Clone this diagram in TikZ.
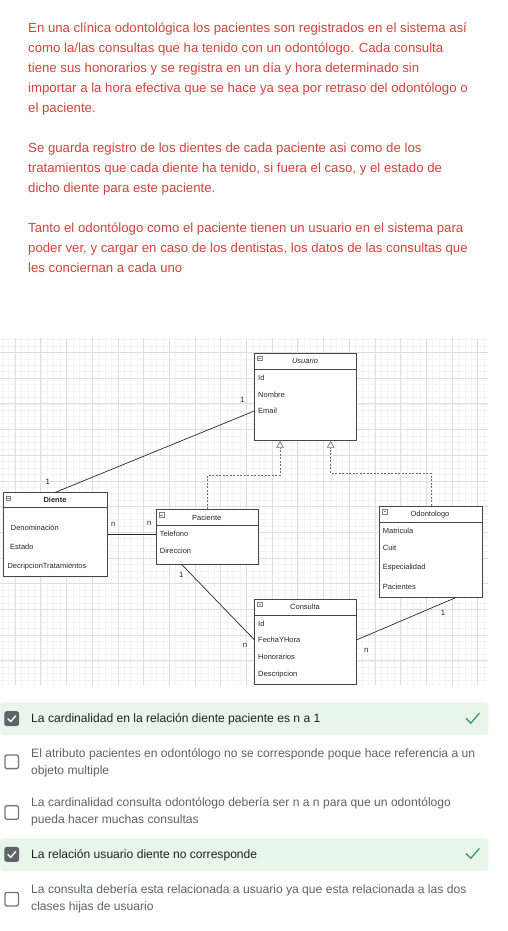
\documentclass[tikz,border=0pt]{standalone}
\usepackage{fontspec}
\setmainfont{Liberation Sans}
\usetikzlibrary{arrows.meta}
\definecolor{prose}{RGB}{212,68,58}
\definecolor{boxc}{RGB}{70,70,70}
\definecolor{attrc}{RGB}{40,40,40}
\definecolor{gridmajor}{RGB}{222,222,222}
\definecolor{gridminor}{RGB}{244,244,244}
\definecolor{dashc}{RGB}{110,110,110}
\definecolor{greenbg}{RGB}{232,245,235}
\definecolor{greenck}{RGB}{52,150,78}
\definecolor{cbdark}{RGB}{95,99,104}
\definecolor{cbgray}{RGB}{117,117,117}
\definecolor{optdark}{RGB}{32,33,36}
\definecolor{optgray}{RGB}{95,99,104}
\begin{document}
\begin{tikzpicture}[x=1pt,y=-1pt,
  umlbox/.style={draw=boxc, line width=0.8pt, fill=white, inner sep=0pt, anchor=north west},
  attr/.style={anchor=base west, inner sep=0pt, text=attrc, font=\fontsize{7.5}{9}\selectfont},
  umltitle/.style={anchor=base, inner sep=0pt, text=attrc, font=\fontsize{7.5}{9}\selectfont},
  card/.style={anchor=base, inner sep=0pt, text=attrc, font=\fontsize{7.8}{9}\selectfont},
  headline/.style={draw=boxc, line width=0.8pt},
  assoc/.style={draw=attrc, line width=0.7pt},
  gen/.style={draw=dashc, line width=0.7pt, dash pattern=on 2pt off 1.5pt,
     -{Triangle[open, fill=white, length=6.6pt, width=7.6pt]}},
  minusicon/.style={draw=gray, line width=0.5pt, minimum size=4.6pt, inner sep=0pt,
     path picture={\draw[gray, line width=0.5pt] ([xshift=0.9pt]path picture bounding box.west) -- ([xshift=-0.9pt]path picture bounding box.east);}},
  prosetext/.style={anchor=base west, inner sep=0pt, text=prose, font=\fontsize{13.2}{15}\selectfont},
  opt/.style={anchor=base west, inner sep=0pt, font=\fontsize{12.1}{14}\selectfont},
  cbox/.style={draw=cbgray, line width=1.3pt, rounded corners=2pt, minimum size=13.6pt, inner sep=0pt},
  cboxon/.style={cbox, draw=cbdark, fill=cbdark},
  tick/.style={line width=1.5pt, line cap=round, line join=round},
]
\useasboundingbox[fill=white] (0,0) rectangle (508,931);

% ---------- prose ----------
\node[prosetext] (p1) at (28,32.3) {En una clínica odontológica los pacientes son registrados en el sistema así};
\node[prosetext] (p2) at (28,52.3) {como la/las consultas que ha tenido con un odontólogo. Cada consulta};
\node[prosetext] (p3) at (28,72.3) {tiene sus honorarios y se registra en un día y hora determinado sin};
\node[prosetext] (p4) at (28,92.3) {importar a la hora efectiva que se hace ya sea por retraso del odontólogo o};
\node[prosetext] (p5) at (28,112.3) {el paciente.};
\node[prosetext] (p6) at (28,152.3) {Se guarda registro de los dientes de cada paciente asi como de los};
\node[prosetext] (p7) at (28,172.3) {tratamientos que cada diente ha tenido, si fuera el caso, y el estado de};
\node[prosetext] (p8) at (28,192.3) {dicho diente para este paciente.};
\node[prosetext] (p9) at (28,232.3) {Tanto el odontólogo como el paciente tienen un usuario en el sistema para};
\node[prosetext] (p10) at (28,252.3) {poder ver, y cargar en caso de los dentistas, los datos de las consultas que};
\node[prosetext] (p11) at (28,272.3) {les conciernan a cada uno};

% ---------- grid ----------
\begin{scope}
\clip (0,338) rectangle (488.3,685);
\foreach \i in {0,...,78} {
  \draw[gridminor, line width=0.4pt] ({2.15+\i*6.425},338) -- ({2.15+\i*6.425},685);
}
\foreach \j in {0,...,56} {
  \draw[gridminor, line width=0.4pt] (0,{333.05+\j*6.425}) -- (488.3,{333.05+\j*6.425});
}
\foreach \i in {-1,...,19} {
  \draw[gridmajor, line width=0.5pt] ({15+\i*25.7},338) -- ({15+\i*25.7},685);
}
\foreach \j in {-1,...,14} {
  \draw[gridmajor, line width=0.5pt] (0,{352.3+\j*25.7}) -- (488.3,{352.3+\j*25.7});
}
\end{scope}

% ---------- boxes ----------
\node[umlbox, minimum width=102pt, minimum height=87.6pt] (usuario) at (254.3,352.7) {};
\node[umlbox, minimum width=104.6pt, minimum height=84pt] (diente) at (2.7,492.3) {};
\node[umlbox, minimum width=102.3pt, minimum height=54.4pt] (paciente) at (156,509.3) {};
\node[umlbox, minimum width=102.4pt, minimum height=91pt] (odontologo) at (379.3,505.7) {};
\node[umlbox, minimum width=102pt, minimum height=85.6pt] (consulta) at (254.3,598.7) {};

\draw[headline] (usuario.west |- 0,369.3) -- (usuario.east |- 0,369.3);
\draw[headline] (diente.west |- 0,507.3) -- (diente.east |- 0,507.3);
\draw[headline] (paciente.west |- 0,525.7) -- (paciente.east |- 0,525.7);
\draw[headline] (odontologo.west |- 0,522.3) -- (odontologo.east |- 0,522.3);
\draw[headline] (consulta.west |- 0,615) -- (consulta.east |- 0,615);

\node[minusicon] (iu) at (259.6,358.3) {};
\node[minusicon] (id) at (8.3,498.3) {};
\node[minusicon] (ip) at (161.7,515) {};
\node[minusicon] (io) at (385,511.7) {};
\node[minusicon] (ic) at (260,604.3) {};

% titles
\node[umltitle, font=\fontsize{7.5}{9}\selectfont\itshape] (tu) at (305,363.6) {Usuario};
\node[umltitle, font=\fontsize{7.5}{9}\selectfont\bfseries] (td) at (55,502.3) {Diente};
\node[umltitle] (tp) at (206.7,520) {Paciente};
\node[umltitle] (to) at (430,516.6) {Odontologo};
\node[umltitle] (tc) at (305,609.3) {Consulta};

% attributes
\node[attr] (u1) at (258,380.3) {Id};
\node[attr] (u2) at (258,397) {Nombre};
\node[attr] (u3) at (258,413.3) {Email};

\node[attr] (d1) at (10.7,530.3) {Denominación};
\node[attr] (d2) at (10,549.6) {Estado};
\node[attr] (d3) at (7.3,568.6) {DecripcionTratamientos};

\node[attr] (pa1) at (159.7,536.6) {Telefono};
\node[attr] (pa2) at (159.7,553.3) {Direccion};

\node[attr] (o1) at (382.7,533.3) {Matricula};
\node[attr] (o2) at (382.7,550.6) {Cuit};
\node[attr] (o3) at (382.7,569.8) {Especialidad};
\node[attr] (o4) at (382.7,589.3) {Pacientes};

\node[attr] (c1) at (258,626) {Id};
\node[attr] (c2) at (258,642.3) {FechaYHora};
\node[attr] (c3) at (258,659.3) {Honorarios};
\node[attr] (c4) at (258,676) {Descripcion};

% associations
\draw[assoc] (usuario.west |- 0,411) -- (diente.north);
\draw[assoc] (diente.east |- 0,534) -- (paciente.west |- 0,534);
\draw[assoc] (paciente.south -| 181.7,0) -- (consulta.west |- 0,639.7);
\draw[assoc] (consulta.east |- 0,639.7) -- (odontologo.south -| 456,0);

% generalizations
\draw[gen] (paciente.north) -- ++(0,-34) -| (usuario.south -| 280,0);
\draw[gen] (odontologo.north) -- ++(0,-32.4) -| (usuario.south -| 330.7,0);

% cardinalities
\node[card] (k1) at (242.3,402.6) {1};
\node[card] (k2) at (47.7,484.6) {1};
\node[card] (k3) at (113.3,526.2) {n};
\node[card] (k4) at (149.3,525.2) {n};
\node[card] (k5) at (181.3,577) {1};
\node[card] (k6) at (245,647.6) {n};
\node[card] (k7) at (443,615.3) {1};
\node[card] (k8) at (366.3,652) {n};

% ---------- checklist ----------
\fill[greenbg, rounded corners=3pt] (0,702.3) rectangle (488.3,735);
\fill[greenbg, rounded corners=3pt] (0,838.3) rectangle (488.3,871);

\node[cboxon] (cb1) at (11.7,718.6) {};
\node[cbox] (cb2) at (11.7,761.8) {};
\node[cbox] (cb3) at (11.7,812.5) {};
\node[cboxon] (cb4) at (11.7,854.4) {};
\node[cbox] (cb5) at (11.7,899.2) {};

\draw[tick, white, line width=1.4pt] ([shift={(-3.8,0.2)}]cb1.center) -- ([shift={(-1,3)}]cb1.center) -- ([shift={(4,-2.8)}]cb1.center);
\draw[tick, white, line width=1.4pt] ([shift={(-3.8,0.2)}]cb4.center) -- ([shift={(-1,3)}]cb4.center) -- ([shift={(4,-2.8)}]cb4.center);

\coordinate (g1) at (472.6,718.6);
\coordinate (g4) at (472.6,853.8);
\draw[tick, greenck, line width=1.2pt] ([shift={(-6.4,-0.2)}]g1) -- ([shift={(-1.8,4.6)}]g1) -- ([shift={(6.6,-5.2)}]g1);
\draw[tick, greenck, line width=1.2pt] ([shift={(-6.4,-0.2)}]g4) -- ([shift={(-1.8,4.6)}]g4) -- ([shift={(6.6,-5.2)}]g4);

\node[opt, text=optdark] (t1) at (31,722.4) {La cardinalidad en la relación diente paciente es n a 1};
\node[opt, text=optgray] (t2a) at (31,757.6) {El atributo pacientes en odontólogo no se corresponde poque hace referencia a un};
\node[opt, text=optgray] (t2b) at (31,774) {objeto multiple};
\node[opt, text=optgray] (t3a) at (31,806.8) {La cardinalidad consulta odontólogo debería ser n a n para que un odontólogo};
\node[opt, text=optgray] (t3b) at (31,823.3) {pueda hacer muchas consultas};
\node[opt, text=optdark] (t4) at (31,858.1) {La relación usuario diente no corresponde};
\node[opt, text=optgray] (t5a) at (31,893.5) {La consulta debería esta relacionada a usuario ya que esta relacionada a las dos};
\node[opt, text=optgray] (t5b) at (31,910) {clases hijas de usuario};
\end{tikzpicture}
\end{document}
